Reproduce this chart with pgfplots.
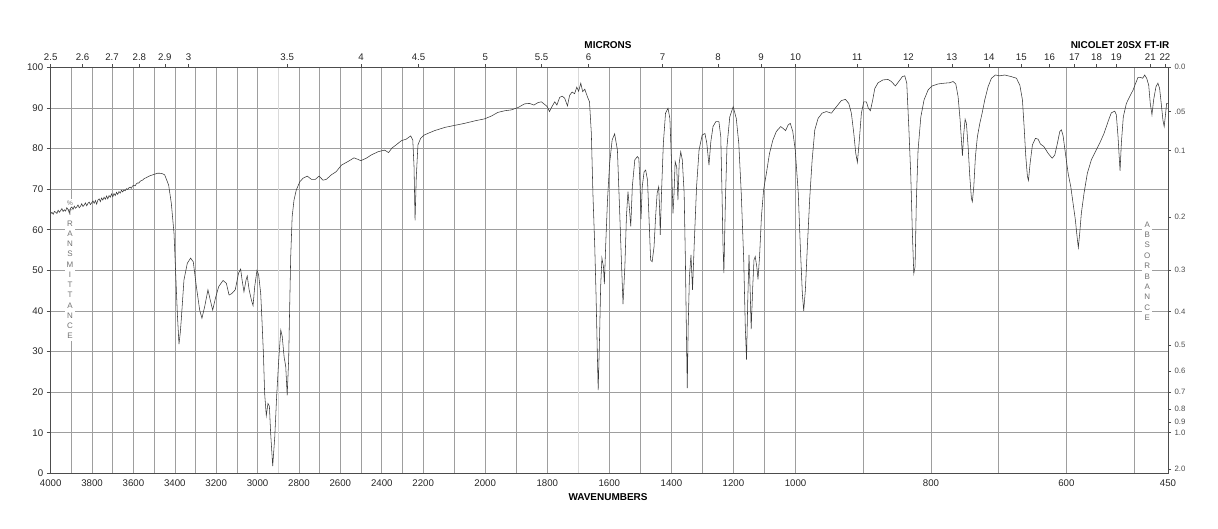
\documentclass[border=0pt]{standalone}
\usepackage{fontspec}
\setmainfont{Liberation Sans}
\usepackage{pgfplots}
\pgfplotsset{compat=1.18}
\usetikzlibrary{calc}

\definecolor{gridc}{gray}{0.62}
\definecolor{axisc}{gray}{0.3}
\definecolor{curvec}{gray}{0.22}
\definecolor{labc}{gray}{0.45}

% Wavenumber scale in three equal panels: 4000-2200, 2200-1000, 1000-450
\pgfplotsset{
  irframe/.style={
    x coord trafo/.code={\pgfmathparse{(##1>=2200)*(4000-##1)/1800+(##1<2200)*(##1>=1000)*(1+(2200-##1)/1200)+(##1<1000)*(2+(1000-##1)/550)}},
    x coord inv trafo/.code={\pgfmathparse{(##1<=1)*(4000-1800*##1)+(##1>1)*(##1<=2)*(2200-1200*(##1-1))+(##1>2)*(1000-550*(##1-2))}},
    xmin=4000, xmax=450, ymin=0, ymax=100,
    width=1117.3bp, height=406bp, scale only axis,
    axis line style={draw=axisc, line width=0.6bp},
    /pgf/number format/assume math mode=true,
  }
}

\begin{document}
\begin{tikzpicture}
\begin{axis}[irframe, name=ax,
  xtick={4000,3800,3600,3400,3200,3000,2800,2600,2400,2200,2000,1800,1600,1400,1200,1000,800,600,450},
  xticklabels={4000,3800,3600,3400,3200,3000,2800,2600,2400,2200,2000,1800,1600,1400,1200,1000,800,600,450},
  minor xtick={3900,3700,3500,3300,3100,2700,2500,2300,2100,1900,1500,1300,1100,900,700,500},
  extra x ticks={2900,1700}, extra x tick labels={,},
  extra x tick style={grid style={draw=gray!30, line width=1.3bp}},
  ytick={0,10,20,30,40,50,60,70,80,90,100},
  yticklabels={0,10,20,30,40,50,60,70,80,90,100},
  xmajorgrids, xminorgrids, ymajorgrids,
  grid style={draw=gridc, line width=0.55bp},
  minor grid style={draw=gridc, line width=0.55bp},
  xtick style={draw=none},
  ytick pos=left, xtick pos=left,
  tick align=outside, major tick length=4bp,
  ytick style={draw=axisc, line width=0.6bp},
  tick label style={font=\fontsize{9.7}{11}\selectfont, text=black!85},
  xticklabel style={yshift=1bp},
]
% vertical axis captions drawn under the spectrum
\node[fill=white, inner sep=1.8bp, align=center, text=labc,
      font=\fontsize{8}{10.3}\selectfont]
  at (rel axis cs:0.01727,0.5007)
  {{\fontsize{6.5}{10.3}\selectfont\%}\\T\\R\\A\\N\\S\\M\\I\\T\\T\\A\\N\\C\\E};
\node[fill=white, inner sep=1.8bp, align=center, text=labc,
      font=\fontsize{8}{10.4}\selectfont]
  at (rel axis cs:0.9815,0.498)
  {A\\B\\S\\O\\R\\B\\A\\N\\C\\E};

\addplot[curvec, line width=0.55bp] table {
w T
4000 63.9
3994 64.3
3988 63.8
3982 64.5
3976 64.3
3970 64.0
3964 64.8
3958 64.3
3952 64.7
3946 65.2
3940 64.5
3934 64.9
3928 64.6
3922 65.4
3916 65.0
3910 64.1
3904 65.3
3898 65.6
3892 65.0
3886 65.8
3880 65.3
3874 65.6
3868 66.1
3862 65.4
3856 65.8
3850 66.4
3844 65.7
3838 66.1
3832 66.6
3826 65.9
3820 66.5
3814 66.8
3808 66.2
3802 66.6
3796 67.1
3790 66.5
3784 67.2
3778 66.3
3772 67.3
3766 67.6
3760 66.9
3754 67.8
3748 67.3
3742 68.0
3736 67.5
3730 68.3
3724 67.6
3718 68.4
3712 68.0
3706 68.8
3700 68.1
3694 68.9
3688 68.4
3682 69.2
3676 68.7
3670 69.4
3664 69.0
3658 69.7
3652 69.3
3646 69.8
3640 69.6
3634 70.1
3628 69.9
3622 70.3
3616 70.5
3610 70.2
3604 70.8
3598 70.9
3592 70.8
3586 71.3
3580 71.5
3574 71.5
3568 71.9
3562 72.1
3556 72.2
3550 72.5
3544 72.7
3538 72.8
3532 73.0
3520 73.3
3508 73.5
3496 73.7
3484 73.9
3473 73.9
3460 73.8
3449 73.5
3430 71.0
3417 66.5
3404 59.1
3396 49.3
3388 39.4
3380 31.8
3374 34.5
3369 37.8
3356 47.6
3340 51.7
3324 53.0
3311 52.1
3296 46.0
3280 40.2
3269 38.2
3256 41.0
3240 45.2
3229 42.7
3217 40.2
3204 43.1
3188 46.0
3167 47.5
3151 46.8
3138 43.9
3124 44.3
3108 45.2
3092 49.3
3082 50.3
3075 47.6
3066 44.7
3056 47.6
3050 48.6
3041 45.2
3030 42.7
3022 41.3
3014 46.0
3003 50.0
2995 48.9
2985 44.3
2979 37.8
2972 29.6
2966 19.7
2958 14.2
2950 17.2
2943 16.5
2937 9.9
2927 1.8
2917 9.0
2908 18.9
2898 27.9
2888 35.3
2881 33.7
2872 28.7
2864 26.3
2857 19.2
2850 27.9
2845 41.0
2840 53.4
2833 63.2
2824 67.3
2813 69.8
2796 71.8
2780 72.7
2760 73.2
2740 72.4
2721 72.4
2703 73.2
2684 72.2
2668 72.4
2644 73.5
2620 74.3
2595 75.9
2563 76.8
2534 77.7
2514 77.3
2501 77.0
2475 77.6
2451 78.4
2418 79.2
2386 79.6
2367 79.0
2351 80.1
2330 80.9
2306 81.9
2282 82.3
2260 83.1
2250 82.1
2244 75.5
2239 62.3
2233 73.1
2225 80.9
2212 82.5
2197 83.3
2179 83.9
2163 84.4
2130 85.2
2098 85.7
2066 86.2
2034 86.8
2002 87.3
1980 88.0
1959 88.9
1937 89.3
1916 89.5
1894 90.1
1873 91.0
1857 91.1
1843 90.7
1830 91.3
1819 91.5
1806 90.7
1800 90.3
1793 89.1
1785 90.3
1776 91.5
1769 90.7
1760 92.6
1752 92.9
1744 92.4
1735 90.5
1728 93.1
1720 93.9
1712 93.5
1705 95.1
1699 94.1
1692 96.1
1686 94.0
1679 94.6
1671 92.8
1664 91.5
1658 83.7
1653 69.0
1647 55.8
1643 44.3
1639 30.4
1636 20.5
1632 32.0
1628 46.0
1624 53.0
1619 50.9
1616 46.6
1612 55.8
1606 67.3
1599 76.4
1591 82.1
1583 83.6
1574 79.6
1567 65.0
1561 52.0
1556 41.7
1550 50.9
1545 63.2
1540 69.4
1535 64.9
1531 60.8
1526 70.6
1518 77.2
1510 78.0
1505 77.6
1501 70.6
1498 62.6
1494 70.6
1488 74.3
1483 74.7
1477 72.2
1472 62.4
1467 52.5
1462 52.1
1456 55.8
1451 63.2
1446 69.0
1441 70.6
1438 64.9
1436 58.7
1432 69.0
1426 81.3
1419 88.7
1411 89.9
1405 87.4
1400 77.2
1395 64.0
1392 68.1
1388 76.8
1383 75.5
1379 67.3
1375 76.4
1370 79.2
1365 77.2
1359 69.0
1355 52.5
1352 36.1
1349 21.0
1346 36.1
1342 48.4
1337 53.8
1332 45.2
1326 57.5
1319 70.6
1311 79.6
1301 83.3
1292 83.7
1286 81.3
1279 75.9
1273 81.7
1266 85.4
1257 86.6
1247 86.6
1241 82.9
1237 69.0
1234 56.7
1231 49.3
1226 67.3
1221 80.5
1212 87.8
1201 90.3
1191 87.4
1183 81.3
1175 69.0
1167 52.5
1162 36.1
1158 28.0
1154 42.7
1150 53.8
1146 44.3
1143 35.5
1138 46.0
1134 52.5
1130 53.4
1125 50.9
1121 47.8
1116 53.4
1110 63.2
1103 69.8
1094 73.9
1084 78.8
1073 82.1
1062 84.2
1048 85.4
1041 85.0
1032 84.4
1024 85.8
1017 86.2
1009 84.2
1001 79.6
996 69.0
993 55.8
990 44.3
988 40.0
985.5 45.2
982.6 55.8
979 68.0
975.6 77.0
971.6 84.6
966.8 87.4
960.9 88.7
954.5 89.1
947.1 88.7
939.7 90.3
932.4 91.8
926.4 92.1
921.4 91.1
917.6 88.7
914 83.7
911.1 78.8
908.7 76.6
906.2 81.3
902.8 88.7
899.3 91.5
895.4 91.5
892.5 89.9
889.5 89.3
886 92.0
883 94.8
878.1 96.2
870.8 96.9
863.4 97.0
858.5 96.5
852.6 95.4
847.6 96.5
842.3 97.7
838.7 97.9
835.8 96.1
832.8 85.4
829.8 73.1
827.5 59.1
825.4 49.2
823.5 50.9
821.6 67.3
819.1 79.6
815 87.8
810.2 92.0
804.3 94.4
798.4 95.4
789.5 95.9
779.6 96.1
772.2 96.2
767.4 96.5
763.4 95.9
760 92.8
757 87.0
755.1 82.1
753.6 78.2
751.6 83.7
749.6 87.2
747.7 86.2
745.2 80.5
742.7 73.1
740.3 67.7
738.9 66.9
736.8 70.6
734.4 78.0
731.5 82.9
727.9 86.2
724.5 88.7
720.6 92.0
715.7 95.2
710.8 97.3
704.9 98.1
698.4 97.9
691 98.1
681.2 97.7
673.8 97.3
668.8 95.6
665 92.0
662.5 85.4
660 78.0
657.6 73.1
656.1 72.1
653.6 76.4
650.2 80.9
645.8 82.5
641.8 82.3
638.4 81.1
633.4 80.5
627 78.8
621.1 77.6
617.2 78.4
613.3 81.3
609.8 84.2
607.4 84.6
604.9 83.1
601.5 78.8
597.5 73.9
593.6 70.6
590.2 66.5
586.8 62.4
584.3 58.3
582.4 55.6
580.4 59.1
578 64.0
574 69.0
569.1 73.9
563.2 77.2
557.3 79.2
550.9 81.3
544.5 83.7
538.6 86.6
533.7 88.8
528.7 89.2
526.3 88.3
523.8 82.9
521.8 77.2
520.8 74.5
518.9 81.3
516 87.8
511.5 91.1
506.5 92.8
501.6 94.4
497.7 96.1
494.3 97.5
490.3 97.5
487.4 97.3
484.4 98.1
481.5 97.3
478.5 95.6
476.2 91.1
473.7 88.3
471.2 92.0
467.8 95.2
464.9 96.1
462.4 94.8
460 91.1
457.5 87.0
455.6 85.4
453.5 88.7
452 91.1
450 91.1
};
\end{axis}

% micron scale on top, absorbance scale on the right
\begin{axis}[irframe,
  xtick pos=right, xticklabel pos=right,
  ytick pos=right, yticklabel pos=right,
  xtick={4000,3846.15,3703.70,3571.43,3448.28,3333.33,2857.14,2500,2222.22,2000,1818.18,1666.67,1428.57,1250,1111.11,1000,909.09,833.33,769.23,714.29,666.67,625,588.24,555.56,526.32,476.19,454.55},
  xticklabels={2.5,2.6,2.7,2.8,2.9,3,3.5,4,4.5,5,5.5,6,7,8,9,10,11,12,13,14,15,16,17,18,19,21,22},
  ytick={100,89.125,79.433,63.096,50.119,39.811,31.623,25.119,19.953,15.849,12.589,10,1},
  yticklabels={0.0,.05,0.1,0.2,0.3,0.4,0.5,0.6,0.7,0.8,0.9,1.0,2.0},
  tick align=outside, major tick length=3bp,
  tick style={draw=axisc, line width=0.6bp},
  xticklabel style={font=\fontsize{9.7}{11}\selectfont, text=black!85},
  yticklabel style={font=\fontsize{7.8}{9}\selectfont, text=black!70},
]
\end{axis}

\node[font=\bfseries\fontsize{10}{12}\selectfont] at ($(ax.south west)+(557.3bp,-23.4bp)$) {WAVENUMBERS};
\node[font=\bfseries\fontsize{10}{12}\selectfont] at ($(ax.south west)+(557.3bp,428.3bp)$) {MICRONS};
\node[font=\bfseries\fontsize{10}{12}\selectfont] at ($(ax.south west)+(1069.3bp,428.3bp)$) {NICOLET 20SX FT-IR};

\pgfresetboundingbox
\path[use as bounding box] ($(ax.south west)+(-50.7bp,-54.7bp)$) rectangle ($(ax.north east)+(50bp,67.3bp)$);
\end{tikzpicture}
\end{document}
